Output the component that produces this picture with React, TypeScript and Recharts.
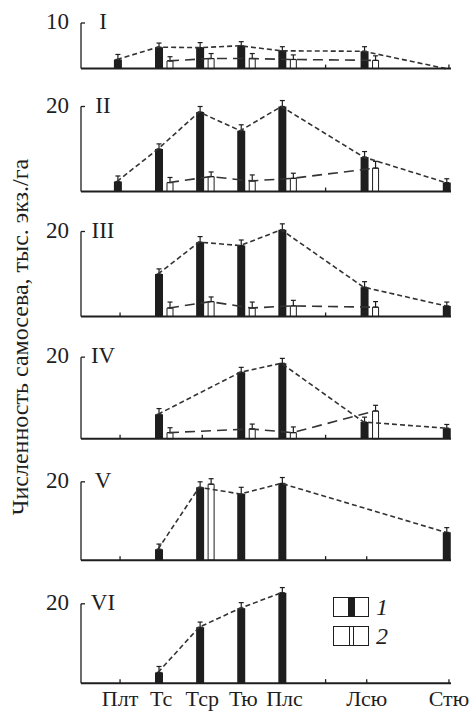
import React from 'react';
import { ComposedChart, Bar, Line, XAxis, YAxis, ErrorBar, ReferenceLine, Legend } from 'recharts';

const FONT = '"Liberation Serif", "Times New Roman", serif';
const INK = '#1e1e1e';

// x positions: index in CATEGORIES (slot 5 and 7 are empty)
const CATEGORIES = ['Плт', 'Тс', 'Тср', 'Тю', 'Плс', '', 'Лсю', '', 'Стю'];
const TICKS = [0, 1, 2, 3, 4, 5, 6, 8];
const PANEL_NAMES = ['I', 'II', 'III', 'IV', 'V', 'VI'];
const TOP_TICKS = [10, 20, 20, 20, 20, 20];
const Y_MAX = [10, 22, 22, 22, 22, 25];
const Y_LABEL = 'Численность самосева, тыс. экз./га';
const LEGEND_LABELS = ['1', '2'];

// series 1 (dark bars) and 2 (white bars), mean and error per slot
const P1_DARK = [2.0, 4.7, 4.6, 5.0, 3.9, null, 3.8, null, 0];
const P1_DARK_ERR = [1.1, 0.9, 1.1, 0.9, 0.9, null, 1.0, null, null];
const P1_LIGHT = [null, 1.7, 2.2, 2.2, 2.0, null, 1.8, null, null];
const P1_LIGHT_ERR = [null, 0.9, 1.1, 1.1, 1.0, null, 1.0, null, null];

const P2_DARK = [2.35, 10.0, 18.7, 14.3, 20.0, null, 8.1, null, 2.1];
const P2_DARK_ERR = [1.3, 1.2, 1.3, 1.4, 1.4, null, 1.3, null, 0.9];
const P2_LIGHT = [null, 2.1, 3.5, 2.5, 3.1, null, 5.5, null, null];
const P2_LIGHT_ERR = [null, 1.2, 1.1, 1.4, 1.2, null, 1.6, null, null];

const P3_DARK = [null, 10.0, 17.5, 16.7, 20.4, null, 6.9, null, 2.5];
const P3_DARK_ERR = [null, 1.2, 1.3, 1.3, 1.4, null, 1.3, null, 0.9];
const P3_LIGHT = [null, 2.0, 3.5, 2.0, 2.5, null, 2.2, null, null];
const P3_LIGHT_ERR = [null, 1.4, 1.1, 1.4, 1.3, null, 1.3, null, null];

const P4_DARK = [null, 6.0, null, 16.3, 18.5, null, 4.1, null, 2.6];
const P4_DARK_ERR = [null, 1.4, null, 1.2, 1.2, null, 1.2, null, 0.9];
const P4_LIGHT = [null, 1.5, null, 2.4, 1.5, null, 6.8, null, null];
const P4_LIGHT_ERR = [null, 1.2, null, 1.2, 1.4, null, 1.4, null, null];

const P5_DARK = [null, 2.8, 18.6, 16.9, 19.6, null, null, null, 7.1];
const P5_DARK_ERR = [null, 1.3, 1.4, 1.7, 1.5, null, null, null, 1.2];
const P5_LIGHT = [null, null, 19.4, null, null, null, null, null, null];
const P5_LIGHT_ERR = [null, null, 1.4, null, null, null, null, null, null];

const P6_DARK = [null, 2.7, 14.1, 18.9, 22.8, null, null, null, null];
const P6_DARK_ERR = [null, 1.5, 1.3, 1.4, 1.3, null, null, null, null];
const P6_LIGHT = [null, null, null, null, null, null, null, null, null];
const P6_LIGHT_ERR = [null, null, null, null, null, null, null, null, null];

const SERIES = [
  [P1_DARK, P1_DARK_ERR, P1_LIGHT, P1_LIGHT_ERR],
  [P2_DARK, P2_DARK_ERR, P2_LIGHT, P2_LIGHT_ERR],
  [P3_DARK, P3_DARK_ERR, P3_LIGHT, P3_LIGHT_ERR],
  [P4_DARK, P4_DARK_ERR, P4_LIGHT, P4_LIGHT_ERR],
  [P5_DARK, P5_DARK_ERR, P5_LIGHT, P5_LIGHT_ERR],
  [P6_DARK, P6_DARK_ERR, P6_LIGHT, P6_LIGHT_ERR],
];

// layout: y of top tick and of baseline for every panel
const TICK_Y = [22.7, 106.7, 231.7, 356.7, 481.7, 604];
const BASE_Y = [68.3, 191.7, 316.7, 438.3, 560, 683.3];

const W = 475;
const PLOT_LEFT = 81;
const PLOT_RIGHT = 451;
const MT = 30;
const XH = 32;
const X_DOMAIN: [number, number] = [-0.95, 8.05];
const UNIT = (PLOT_RIGHT - PLOT_LEFT) / (X_DOMAIN[1] - X_DOMAIN[0]);
// domain moved so that the same value lands px pixels to the right
const shift = (px: number): [number, number] => [X_DOMAIN[0] - px / UNIT, X_DOMAIN[1] - px / UNIT];

const toErr = (e: number | null) => (e == null ? null : [0, e]);

const YTick = (props: any) => {
  const { x, y, payload, name } = props;
  return (
    <g>
      <line x1={x} y1={y} x2={x + 4} y2={y} stroke={INK} strokeWidth={1.3} />
      <text x={x - 12} y={y + 6} textAnchor="end" fontSize={23} fontFamily={FONT} fill={INK}>
        {payload.value}
      </text>
      <text x={x + 22} y={y + 6} textAnchor="middle" fontSize={23} fontFamily={FONT} fill={INK}>
        {name}
      </text>
    </g>
  );
};

const XTick = (props: any) => {
  const { x, y, payload, showLabel } = props;
  return (
    <g>
      <line x1={x} y1={y} x2={x} y2={y - 4} stroke={INK} strokeWidth={1.3} />
      {showLabel && (
        <text x={x} y={y + 23} textAnchor="middle" fontSize={22} fontFamily={FONT} fill={INK}>
          {CATEGORIES[payload.value]}
        </text>
      )}
    </g>
  );
};

const LegendBox = () => (
  <div style={{ fontFamily: FONT }}>
    {LEGEND_LABELS.map((label, i) => (
      <div key={label} style={{ display: 'flex', alignItems: 'center', height: 19, marginBottom: 10 }}>
        <svg width={36} height={20}>
          <rect x={0.5} y={0.5} width={35} height={19} fill="#fff" stroke={INK} strokeWidth={1} />
          {i === 0 ? (
            <rect x={15} y={0.5} width={7} height={19} fill={INK} />
          ) : (
            <rect x={16.5} y={0.5} width={4} height={19} fill="#fff" stroke={INK} strokeWidth={1} />
          )}
        </svg>
        <span style={{ fontStyle: 'italic', fontSize: 24, marginLeft: 7, lineHeight: '19px', color: INK }}>{label}</span>
      </div>
    ))}
  </div>
);

function Panel({ index }: { index: number }) {
  const [dark, darkErr, light, lightErr] = SERIES[index];
  const topTick = TOP_TICKS[index];
  const yMax = Y_MAX[index];
  const ppu = (BASE_Y[index] - TICK_Y[index]) / topTick;
  const plotH = yMax * ppu;
  const plotTop = BASE_Y[index] - plotH;
  const top = plotTop - MT;
  const last = index === PANEL_NAMES.length - 1;

  const data = CATEGORIES.map((c, i) => ({
    x: i,
    dark: dark[i],
    darkErr: toErr(darkErr[i]),
    light: light[i],
    lightErr: toErr(lightErr[i]),
  }));

  return (
    <div style={{ position: 'absolute', left: 0, top }}>
      <ComposedChart
        width={W}
        height={MT + plotH + XH}
        data={data}
        margin={{ top: MT, right: W - PLOT_RIGHT, bottom: 0, left: 0 }}
        barGap={4}
      >
        <XAxis
          type="number"
          dataKey="x"
          domain={X_DOMAIN}
          ticks={TICKS}
          interval={0}
          allowDataOverflow
          height={XH}
          tickSize={0}
          tickMargin={0}
          axisLine={{ stroke: INK, strokeWidth: 2 }}
          tickLine={false}
          tick={(p: any) => <XTick {...p} showLabel={last} />}
        />
        <XAxis xAxisId="bars" type="number" dataKey="x" domain={shift(2.4)} ticks={TICKS} allowDataOverflow hide />
        <XAxis xAxisId="darkLine" type="number" dataKey="x" domain={shift(-3.15)} ticks={TICKS} allowDataOverflow hide />
        <XAxis xAxisId="lightLine" type="number" dataKey="x" domain={shift(7.85)} ticks={TICKS} allowDataOverflow hide />
        <YAxis
          type="number"
          domain={[0, yMax]}
          ticks={[topTick]}
          width={PLOT_LEFT}
          axisLine={false}
          tickLine={false}
          tickSize={0}
          tickMargin={0}
          tick={(p: any) => <YTick {...p} name={PANEL_NAMES[index]} />}
        />
        <ReferenceLine
          segment={[{ x: X_DOMAIN[0], y: 0 }, { x: X_DOMAIN[0], y: topTick }]}
          stroke={INK}
          strokeWidth={1.3}
          ifOverflow="visible"
        />
        <Bar xAxisId="bars" dataKey="dark" fill={INK} barSize={8} isAnimationActive={false}>
          <ErrorBar dataKey="darkErr" direction="y" width={2.5} stroke={INK} strokeWidth={1.2} />
        </Bar>
        <Bar xAxisId="bars" dataKey="light" fill="#fff" stroke={INK} strokeWidth={1} barSize={6} isAnimationActive={false}>
          <ErrorBar dataKey="lightErr" direction="y" width={2.5} stroke={INK} strokeWidth={1.2} />
        </Bar>
        <Line
          xAxisId="darkLine"
          dataKey="dark"
          stroke="#333"
          strokeWidth={1.6}
          strokeDasharray="5 3"
          dot={false}
          connectNulls
          legendType="none"
          isAnimationActive={false}
        />
        <Line
          xAxisId="lightLine"
          dataKey="light"
          stroke="#333"
          strokeWidth={1.6}
          strokeDasharray="10 6"
          dot={false}
          connectNulls
          legendType="none"
          isAnimationActive={false}
        />
        {last && (
          <Legend
            layout="horizontal"
            verticalAlign="middle"
            align="center"
            content={() => <LegendBox />}
            wrapperStyle={{ position: 'absolute', left: 333, top: 598 - top, width: 70 }}
          />
        )}
      </ComposedChart>
    </div>
  );
}

export default function App() {
  return (
    <div style={{ position: 'absolute', left: 0, top: 0, width: W, height: 712, background: '#fff', overflow: 'hidden' }}>
      <svg width={40} height={712} style={{ position: 'absolute', left: 0, top: 0 }}>
        <text
          transform="rotate(-90)"
          x={-337}
          y={28}
          textAnchor="middle"
          fontSize={24}
          fontFamily={FONT}
          fill={INK}
        >
          {Y_LABEL}
        </text>
      </svg>
      {PANEL_NAMES.map((n, i) => (
        <Panel key={n} index={i} />
      ))}
    </div>
  );
}
